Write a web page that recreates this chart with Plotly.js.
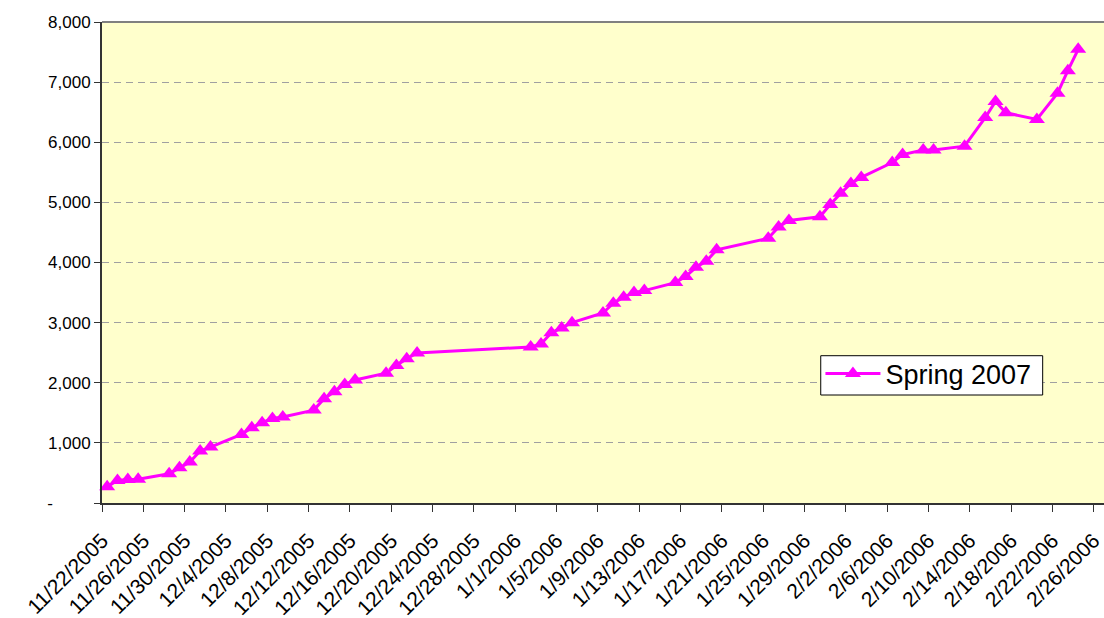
<!DOCTYPE html>
<html>
<head>
<meta charset="utf-8">
<script src="https://cdn.plot.ly/plotly-3.0.1.min.js"></script>
<style>
  html, body { margin: 0; padding: 0; background: #ffffff; }
  #chart { width: 1104px; height: 618px; }
</style>
</head>
<body>
<div id="chart"></div>
<script>
// ---- data ----
const seriesName = "Spring 2007";
const dates = [
  "2005-11-22","2005-11-23","2005-11-24","2005-11-25",
  "2005-11-28","2005-11-29","2005-11-30","2005-12-01","2005-12-02",
  "2005-12-05","2005-12-06","2005-12-07","2005-12-08","2005-12-09",
  "2005-12-12","2005-12-13","2005-12-14","2005-12-15","2005-12-16",
  "2005-12-19","2005-12-20","2005-12-21","2005-12-22",
  "2006-01-02","2006-01-03","2006-01-04","2006-01-05","2006-01-06",
  "2006-01-09","2006-01-10","2006-01-11","2006-01-12","2006-01-13",
  "2006-01-16","2006-01-17","2006-01-18","2006-01-19","2006-01-20",
  "2006-01-25","2006-01-26","2006-01-27",
  "2006-01-30","2006-01-31","2006-02-01","2006-02-02","2006-02-03",
  "2006-02-06","2006-02-07","2006-02-09","2006-02-10",
  "2006-02-13","2006-02-15","2006-02-16","2006-02-17",
  "2006-02-20","2006-02-22","2006-02-23","2006-02-24"
];
const values = [
  270, 375, 390, 394,
  485, 585, 680, 865, 930,
  1140, 1250, 1336, 1405, 1430,
  1545, 1735, 1852, 1970, 2046,
  2160, 2285, 2400, 2495,
  2595, 2646, 2830, 2912, 3000,
  3160, 3322, 3422, 3499, 3533,
  3666, 3766, 3920, 4020, 4210,
  4404, 4592, 4700,
  4760, 4965, 5150, 5315, 5415,
  5662, 5796, 5870, 5870,
  5935, 6410, 6677, 6490,
  6380, 6817, 7190, 7545
];
const xTickLabels = [
  "11/22/2005","11/26/2005","11/30/2005","12/4/2005","12/8/2005",
  "12/12/2005","12/16/2005","12/20/2005","12/24/2005","12/28/2005",
  "1/1/2006","1/5/2006","1/9/2006","1/13/2006","1/17/2006",
  "1/21/2006","1/25/2006","1/29/2006","2/2/2006","2/6/2006",
  "2/10/2006","2/14/2006","2/18/2006","2/22/2006","2/26/2006"
];
const yTickValues = [0, 1000, 2000, 3000, 4000, 5000, 6000, 7000, 8000];
const yTickLabels = ["-\u00a0\u00a0\u00a0\u00a0\u00a0\u00a0\u00a0\u00a0", "1,000", "2,000", "3,000", "4,000", "5,000", "6,000", "7,000", "8,000"];

// ---- helpers ----
const DAY = 86400000;
function pad(n) { return (n < 10 ? "0" : "") + n; }
function fmt(ms) {
  const d = new Date(ms);
  return d.getUTCFullYear() + "-" + pad(d.getUTCMonth() + 1) + "-" + pad(d.getUTCDate()) +
         " " + pad(d.getUTCHours()) + ":00";
}
function labelToMs(lbl) {
  const p = lbl.split("/").map(Number);
  return Date.UTC(p[2], p[0] - 1, p[1]);
}
// Excel date axis: each day is a slot; the tick sits at the slot's left edge,
// the point at the slot's centre (half a day after the tick).
const xTickVals = xTickLabels.map(l => fmt(labelToMs(l) - DAY / 2));
const rangeStart = labelToMs(xTickLabels[0]) - DAY / 2;
const xRange = [fmt(rangeStart), fmt(rangeStart + 97 * DAY)];

const FONT = '"Liberation Sans", Arial, sans-serif';

const trace = {
  type: "scatter",
  mode: "lines+markers",
  name: seriesName,
  x: dates,
  y: values,
  line: { color: "#FF00FF", width: 3 },
  marker: { symbol: "triangle-up", size: 14, color: "#FF00FF", line: { width: 0 } },
  cliponaxis: false
};

const layout = {
  width: 1104,
  height: 618,
  margin: { l: 102, r: 0, t: 22, b: 115 },
  paper_bgcolor: "#ffffff",
  plot_bgcolor: "#FFFFCC",
  showlegend: true,
  font: { family: FONT, size: 17, color: "#000000" },
  xaxis: {
    type: "date",
    range: xRange,
    tickmode: "array",
    tickvals: xTickVals,
    ticktext: xTickLabels,
    tickangle: -45,
    tickfont: { family: FONT, size: 21, color: "#000000" },
    ticklabelstandoff: 8,
    ticklabeloverflow: "allow",
    showgrid: false,
    zeroline: false,
    showline: true,
    linecolor: "#333333",
    linewidth: 2,
    ticks: "outside",
    ticklen: 7,
    tickwidth: 1,
    tickcolor: "#333333"
  },
  yaxis: {
    range: [0, 8000],
    tickmode: "array",
    tickvals: yTickValues,
    ticktext: yTickLabels,
    tickfont: { family: FONT, size: 17, color: "#000000" },
    showgrid: true,
    gridcolor: "#A0A0A0",
    gridwidth: 1,
    griddash: "7px,5px",
    zeroline: false,
    showline: true,
    linecolor: "#333333",
    linewidth: 2,
    ticks: "outside",
    ticklen: 6,
    tickwidth: 1,
    tickcolor: "#333333",
    fixedrange: true
  },
  legend: {
    x: 0.717,
    y: 0.319,
    xanchor: "left",
    yanchor: "top",
    bgcolor: "rgba(0,0,0,0)",
    borderwidth: 0,
    font: { family: FONT, size: 27, color: "#000000" },
    itemwidth: 55
  },
  shapes: [
    { type: "line", xref: "paper", yref: "paper", x0: 0, x1: 1, y0: 1, y1: 1,
      line: { color: "#808080", width: 2 } },
    { type: "rect", xref: "paper", yref: "paper", layer: "above",
      x0: 0.7173, x1: 0.9388, y0: 0.2245, y1: 0.3062,
      fillcolor: "#ffffff", line: { color: "#000000", width: 1 } }
  ]
};

Plotly.newPlot("chart", [trace], layout, { displayModeBar: false, staticPlot: true });
</script>
</body>
</html>
